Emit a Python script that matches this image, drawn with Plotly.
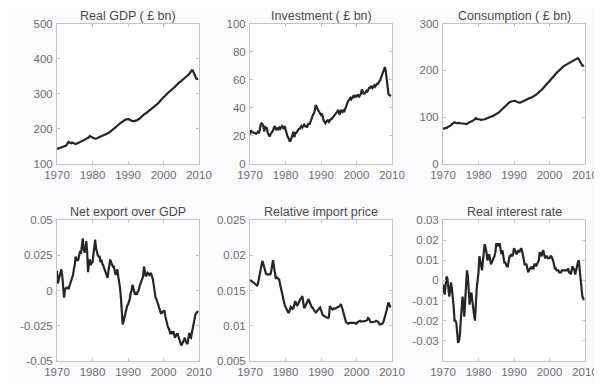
import plotly.graph_objects as go

# Quarterly observations 1970Q1 - 2009Q4
quarters = [1970 + q / 4 for q in range(160)]

real_gdp = [
    143, 144, 145, 146, 146, 147, 148, 148, 149, 150, 152, 155, 162, 163, 161, 160,
    159, 161, 160, 158, 158, 157, 158, 159, 160, 162, 163, 164, 165, 166, 167, 169,
    170, 172, 173, 175, 176, 180, 178, 177, 175, 174, 173, 172, 172, 173, 174, 175,
    176, 177, 178, 179, 180, 181, 183, 184, 185, 186, 188, 190, 192, 194, 196, 197,
    199, 201, 203, 205, 207, 210, 213, 216, 218, 220, 222, 224, 225, 226, 227, 228,
    229, 228, 226, 224, 223, 222, 222, 222, 222, 223, 224, 226, 227, 229, 231, 234,
    237, 240, 242, 243, 244, 246, 248, 250, 251, 253, 255, 257, 259, 261, 264, 266,
    268, 271, 273, 276, 278, 281, 284, 287, 289, 292, 295, 297, 300, 302, 304, 306,
    308, 310, 312, 314, 317, 320, 323, 326, 329, 332, 333, 334, 336, 338, 340, 342,
    344, 346, 348, 351, 354, 357, 361, 365, 367, 366, 361, 354, 347, 343, 342, 343,
]

investment = [
    21, 24, 23, 22.5, 22.5, 22, 22, 21.5, 22, 23, 22, 24, 28, 29, 28.5, 27,
    23, 27, 25, 26, 22, 20, 19.5, 21, 22, 23, 24, 26, 27, 25, 24, 26,
    25, 26, 25, 26, 27, 26, 25, 27, 24, 22, 20, 19, 17, 16, 17, 19,
    21, 23, 19, 22, 22, 23, 24, 25, 25, 26, 27, 26, 27, 28, 27, 27,
    26, 28, 29, 28, 30, 32, 33, 35, 36, 38, 42, 41, 39, 38, 37, 36,
    35, 36, 33, 31, 30, 29, 30, 31, 31, 30, 31, 32, 32, 33, 33, 34,
    35, 36, 37, 38, 37, 35, 38, 38, 37, 38, 37, 39, 40, 42, 44, 45,
    46, 47, 46, 47, 48, 47, 49, 48, 48, 49, 49, 48, 49, 50, 53, 51,
    50, 50, 51, 52, 51, 53, 54, 54, 55, 55, 54, 55, 56, 55, 56, 57,
    57, 58, 59, 60, 62, 64, 66, 68, 69, 66, 59, 52, 50, 49, 49, 48.5,
]

consumption = [
    75, 76, 76, 77, 77, 78, 79, 80, 81, 83, 85, 86, 88, 89, 88, 87,
    87, 87, 88, 87, 87, 87, 86, 86, 87, 86, 85, 86, 86, 87, 88, 89,
    90, 91, 93, 94, 96, 98, 96, 96, 95, 95, 95, 94, 95, 95, 95, 95,
    96, 97, 98, 99, 100, 101, 101, 102, 102, 103, 104, 105, 106, 107, 109, 110,
    112, 114, 115, 117, 118, 120, 122, 124, 126, 129, 131, 132, 133, 134, 134, 134,
    135, 135, 134, 133, 132, 132, 131, 131, 132, 132, 133, 134, 135, 136, 137, 138,
    139, 140, 141, 141, 142, 143, 144, 145, 147, 148, 150, 151, 153, 155, 156, 158,
    160, 162, 164, 166, 168, 170, 172, 175, 177, 179, 181, 184, 186, 188, 190, 193,
    195, 197, 199, 201, 202, 204, 206, 207, 209, 210, 211, 212, 213, 214, 215, 216,
    217, 218, 219, 220, 221, 222, 223, 225, 226, 224, 220, 216, 212, 210, 210, 211,
]

net_export = [
    0.014, 0.005, 0.008, 0.010, 0.012, 0.015, 0.010, 0.004,
    -0.005, 0.001, 0.002, 0.002, 0.002, 0.001, 0.003, 0.005,
    0.008, 0.009, 0.011, 0.015, 0.018, 0.024, 0.023, 0.021,
    0.022, 0.025, 0.028, 0.026, 0.031, 0.037, 0.030, 0.027,
    0.028, 0.035, 0.027, 0.013, 0.019, 0.022, 0.018, 0.020,
    0.020, 0.026, 0.033, 0.036, 0.030, 0.027, 0.025, 0.024,
    0.024, 0.020, 0.022, 0.019, 0.018, 0.016, 0.014, 0.0125,
    0.011, 0.009, 0.014, 0.019, 0.022, 0.020, 0.019, 0.017,
    0.017, 0.014, 0.011, 0.013, 0.015, 0.010, 0.007, 0.002,
    -0.005, -0.012, -0.024, -0.022, -0.019, -0.016, -0.013, -0.011,
    -0.010, -0.008, -0.006, -0.002, 0.000, 0.004, 0.002, -0.001,
    -0.003, -0.002, -0.003, -0.001, 0.000, 0.003, 0.005, 0.006,
    0.008, 0.010, 0.017, 0.012, 0.010, 0.011, 0.0125, 0.012,
    0.011, 0.012, 0.012, 0.010, 0.008, 0.004, -0.002, -0.005,
    -0.006, -0.008, -0.010, -0.013, -0.015, -0.016, -0.016, -0.015,
    -0.015, -0.014, -0.018, -0.021, -0.022, -0.026, -0.027, -0.030,
    -0.031, -0.029, -0.030, -0.029, -0.031, -0.0335, -0.032, -0.031,
    -0.031, -0.033, -0.036, -0.037, -0.039, -0.038, -0.036, -0.034,
    -0.0335, -0.036, -0.037, -0.038, -0.034, -0.030, -0.033, -0.0335,
    -0.030, -0.026, -0.023, -0.020, -0.017, -0.016, -0.015, -0.0146,
]

import_price = [
    0.0165, 0.0164, 0.0162, 0.0161, 0.0160, 0.0159, 0.0158, 0.0157,
    0.0157, 0.0160, 0.0168, 0.0175, 0.0180, 0.0186, 0.0192, 0.0188,
    0.0182, 0.0177, 0.0174, 0.0173, 0.0173, 0.0173, 0.0174, 0.0173,
    0.0178, 0.0185, 0.0193, 0.0184, 0.0175, 0.0168, 0.0169, 0.0167,
    0.0167, 0.0165, 0.0158, 0.0152, 0.0145, 0.0138, 0.0133, 0.0130,
    0.0127, 0.0124, 0.0121, 0.0119, 0.0119, 0.0124, 0.0127, 0.0126,
    0.0124, 0.0125, 0.0130, 0.0135, 0.0132, 0.0128, 0.0130, 0.0134,
    0.0136, 0.0138, 0.0141, 0.0142, 0.0133, 0.0125, 0.0127, 0.0130,
    0.0132, 0.0135, 0.0138, 0.0134, 0.0130, 0.0128, 0.0126, 0.0125,
    0.0122, 0.0120, 0.0119, 0.0120, 0.0121, 0.0123, 0.0125, 0.0126,
    0.0122, 0.0118, 0.0115, 0.0114, 0.0114, 0.0113, 0.0112, 0.0112,
    0.0111, 0.0113, 0.0128, 0.0126, 0.0124, 0.0123, 0.0124, 0.0124,
    0.0124, 0.0125, 0.0126, 0.0126, 0.0127, 0.0128, 0.0130, 0.0129,
    0.0124, 0.0118, 0.0115, 0.0110, 0.0106, 0.0104, 0.0103, 0.0103,
    0.0104, 0.0104, 0.0105, 0.0104, 0.0105, 0.0105, 0.0104, 0.0103,
    0.0103, 0.0105, 0.0106, 0.0107, 0.0107, 0.0106, 0.0106, 0.0107,
    0.0107, 0.0107, 0.0106, 0.0107, 0.0108, 0.0111, 0.0110, 0.0106,
    0.0105, 0.0105, 0.0105, 0.0106, 0.0106, 0.0106, 0.0107, 0.0107,
    0.0106, 0.0104, 0.0102, 0.0102, 0.0102, 0.0103, 0.0104, 0.0108,
    0.0113, 0.0116, 0.0122, 0.0128, 0.0133, 0.0130, 0.0127, 0.0127,
]

real_interest = [
    -0.002, -0.006, -0.007, -0.002, 0.002, 0.001, -0.004, -0.008,
    -0.005, -0.001, -0.004, -0.008, -0.013, -0.020, -0.020, -0.021,
    -0.026, -0.031, -0.030, -0.027, -0.020, -0.014, -0.008, -0.012,
    -0.018, -0.010, -0.004, 0.005, 0.002, -0.005, -0.012, -0.008,
    -0.006, -0.010, -0.016, -0.017, -0.020, -0.010, -0.004, 0.000,
    0.004, 0.012, 0.009, 0.006, 0.005, 0.010, 0.014, 0.018,
    0.016, 0.014, 0.010, 0.011, 0.013, 0.011, 0.008, 0.009,
    0.010, 0.011, 0.012, 0.014, 0.018, 0.018, 0.017, 0.018,
    0.018, 0.015, 0.013, 0.015, 0.012, 0.009, 0.009, 0.008,
    0.007, 0.007, 0.010, 0.012, 0.012, 0.013, 0.012, 0.013,
    0.016, 0.015, 0.014, 0.013, 0.014, 0.015, 0.014, 0.015,
    0.016, 0.015, 0.012, 0.009, 0.008, 0.008, 0.008, 0.006,
    0.004, 0.005, 0.006, 0.006, 0.007, 0.006, 0.006, 0.008,
    0.008, 0.007, 0.008, 0.009, 0.010, 0.014, 0.013, 0.012,
    0.014, 0.015, 0.013, 0.011, 0.012, 0.012, 0.011, 0.011,
    0.011, 0.012, 0.012, 0.011, 0.010, 0.008, 0.006, 0.006,
    0.005, 0.005, 0.005, 0.004, 0.004, 0.004, 0.005, 0.005,
    0.005, 0.005, 0.005, 0.005, 0.005, 0.006, 0.004, 0.004,
    0.003, 0.005, 0.007, 0.006, 0.005, 0.003, 0.005, 0.008,
    0.009, 0.010, 0.006, 0.002, -0.005, -0.008, -0.009, -0.0095,
]

titles = ["Real GDP ( £ bn)", "Investment ( £ bn)", "Consumption ( £ bn)",
          "Net export over GDP", "Relative import price", "Real interest rate"]
series = [real_gdp, investment, consumption, net_export, import_price, real_interest]

x_ticks = [1970, 1980, 1990, 2000, 2010]
y_specs = [
    dict(range=[100, 500], tickvals=[100, 200, 300, 400, 500], ticktext=["100", "200", "300", "400", "500"]),
    dict(range=[0, 100], tickvals=[0, 20, 40, 60, 80, 100], ticktext=["0", "20", "40", "60", "80", "100"]),
    dict(range=[0, 300], tickvals=[0, 100, 200, 300], ticktext=["0", "100", "200", "300"]),
    dict(range=[-0.05, 0.05], tickvals=[-0.05, -0.025, 0, 0.025, 0.05],
         ticktext=["-0.05", "-0.025", "0", "0.025", "0.05"]),
    dict(range=[0.005, 0.025], tickvals=[0.005, 0.01, 0.015, 0.02, 0.025],
         ticktext=["0.005", "0.01", "0.015", "0.02", "0.025"]),
    dict(range=[-0.04, 0.03], tickvals=[-0.03, -0.02, -0.01, 0, 0.01, 0.02, 0.03],
         ticktext=["-0.03", "-0.02", "-0.01", "0", "0.01", "0.02", "0.03"]),
]

W, H = 602, 383
x_doms = [(49 / W, 191 / W), (242 / W, 384 / W), (435 / W, 577 / W)]
y_doms = [(1 - 156 / H, 1 - 15.5 / H), (1 - 353 / H, 1 - 212 / H)]

AX_COLOR = "#c4c4c4"
TICK_FONT = dict(family="Liberation Sans, Arial, sans-serif", size=11.5, color="#6e6e6e")

fig = go.Figure()
layout = dict(
    width=W, height=H, autosize=False,
    margin=dict(l=0, r=0, t=0, b=0),
    paper_bgcolor="#fbfbfd", plot_bgcolor="#ffffff",
    showlegend=False,
    annotations=[],
)

for i in range(6):
    row, col = divmod(i, 3)
    n = i + 1
    xa = "x" if n == 1 else f"x{n}"
    ya = "y" if n == 1 else f"y{n}"
    fig.add_trace(go.Scatter(
        x=quarters, y=series[i], mode="lines",
        line=dict(color="#262626", width=2.2),
        xaxis=xa, yaxis=ya, hoverinfo="skip",
    ))
    common = dict(
        showgrid=False, zeroline=False, showline=True, linecolor=AX_COLOR, linewidth=1,
        mirror="ticks", ticks="inside", ticklen=3, tickcolor=AX_COLOR, tickwidth=1,
        tickfont=TICK_FONT, automargin=False,
    )
    layout["xaxis" if n == 1 else f"xaxis{n}"] = dict(
        domain=list(x_doms[col]), range=[1970, 2010], tickvals=x_ticks,
        ticktext=[str(t) for t in x_ticks], anchor=ya, ticklabelstandoff=0, **common,
    )
    layout["yaxis" if n == 1 else f"yaxis{n}"] = dict(
        domain=list(y_doms[row]), anchor=xa, ticklabelstandoff=1, **y_specs[i], **common,
    )
    layout["annotations"].append(dict(
        text=titles[i], xref="paper", yref="paper",
        x=(x_doms[col][0] + x_doms[col][1]) / 2, y=y_doms[row][1],
        xanchor="center", yanchor="bottom", yshift=-1, showarrow=False,
        font=dict(family="Liberation Sans, Arial, sans-serif", size=12.5, color="#4a4a4a"),
    ))

fig.update_layout(**layout)
fig.write_html("out.html")
